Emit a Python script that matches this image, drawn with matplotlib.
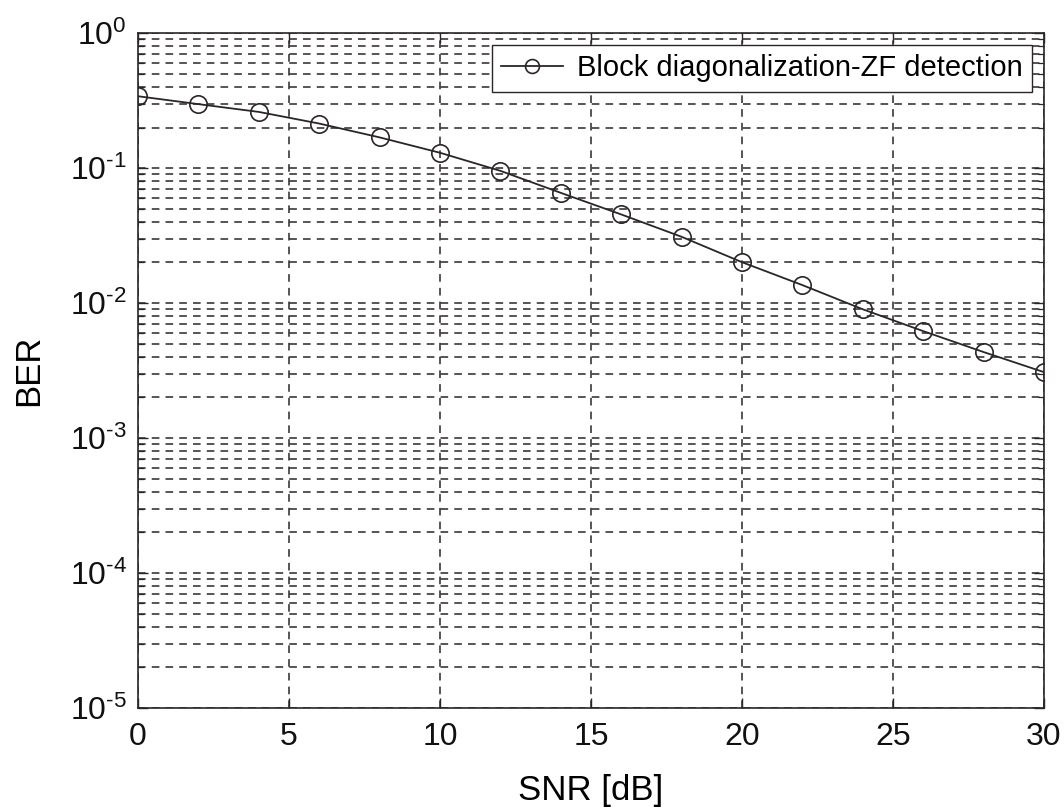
import matplotlib
matplotlib.use("Agg")
import matplotlib.pyplot as plt
import numpy as np
from matplotlib.ticker import LogLocator, NullFormatter, FixedLocator, FuncFormatter

snr_db = [0, 2, 4, 6, 8, 10, 12, 14, 16, 18, 20, 22, 24, 26, 28, 30]
ber = [0.341, 0.298, 0.261, 0.214, 0.169, 0.130, 0.0955, 0.0656, 0.0454,
       0.031, 0.0201, 0.0136, 0.0090, 0.0062, 0.00434, 0.00308]
x_ticks = [0, 5, 10, 15, 20, 25, 30]
label = "Block diagonalization-ZF detection"

plt.rcParams["font.family"] = ["Liberation Sans", "DejaVu Sans"]
plt.rcParams["mathtext.fontset"] = "custom"
plt.rcParams["mathtext.rm"] = "Liberation Sans"

INK = "#2b2626"
DASH = (0, (5, 4))


def decade(v, _pos):
    # MATLAB-style exponent: plain hyphen, not a minus sign
    e = int(round(np.log10(v)))
    ex = str(e) if e >= 0 else r"\text{-}" + str(-e)
    return r"$\mathregular{10^{%s}}$" % ex


fig = plt.figure(figsize=(10.64, 8.09), dpi=100)
ax = fig.add_axes([0.1297, 0.1248, 0.8515, 0.8342])

ax.semilogy(snr_db, ber, color=INK, lw=1.3, marker="o", ms=12.5,
            mfc="none", mec=INK, mew=1.2, label=label, zorder=3)

ax.set_xlim(0, 30)
ax.set_ylim(1e-5, 1e0)
ax.xaxis.set_major_locator(FixedLocator(x_ticks))
ax.yaxis.set_major_locator(LogLocator(base=10, numticks=10))
ax.yaxis.set_major_formatter(FuncFormatter(decade))
ax.yaxis.set_minor_locator(LogLocator(base=10, subs=np.arange(2, 10), numticks=20))
ax.yaxis.set_minor_formatter(NullFormatter())

ax.grid(True, which="major", axis="x", color=INK, ls=DASH, lw=1.1)
ax.grid(True, which="both", axis="y", color=INK, ls=DASH, lw=1.1)

ax.tick_params(which="both", direction="in", top=True, right=True,
               colors=INK, labelcolor="#111111")
ax.tick_params(which="major", length=7, width=1.0, labelsize=23)
ax.tick_params(axis="x", which="major", pad=10)
ax.tick_params(axis="y", which="major", pad=8)
ax.tick_params(which="minor", length=4, width=0.9)
for s in ax.spines.values():
    s.set_color(INK)
    s.set_linewidth(1.2)

ax.set_xlabel("SNR [dB]", fontsize=25, labelpad=16)
ax.set_ylabel("BER", fontsize=25, labelpad=18)

leg = ax.legend(loc="upper right", fontsize=21, frameon=True, fancybox=False,
                borderaxespad=0.4, handlelength=2.1, handletextpad=0.5,
                borderpad=0.32, markerscale=0.8)
leg.get_frame().set_edgecolor(INK)
leg.get_frame().set_linewidth(1.0)
leg.get_frame().set_alpha(1.0)

fig.savefig("out.png", dpi=100, facecolor="white")
